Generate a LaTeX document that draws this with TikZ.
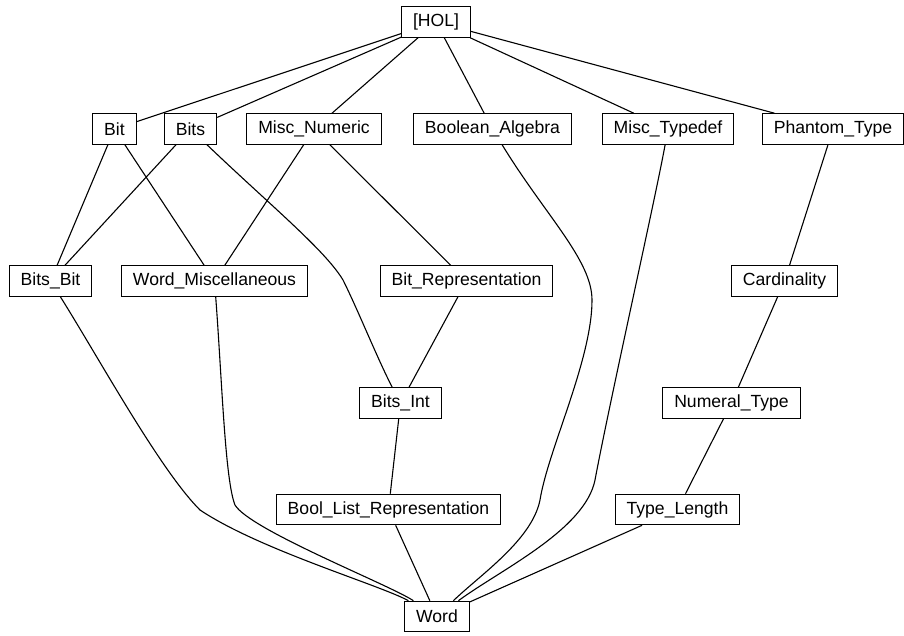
\documentclass[tikz,border=0pt]{standalone}
\usepackage{fontspec}
\setmainfont{Liberation Sans}
\begin{document}
\begin{tikzpicture}[x=1pt,y=-1pt,
  box/.style={draw,rectangle,line width=1.1pt,minimum height=30.5pt,inner xsep=11.5pt,inner ysep=0pt,
    font=\fontsize{17.6}{20}\selectfont},
  edge/.style={line width=1.1pt}]
\useasboundingbox (0,0) rectangle (904,635);
\node[box] (HOL) at (436,22) {[HOL]};
\node[box] (Bit) at (114.5,129) {Bit};
\node[box] (Bits) at (190.5,129) {Bits};
\node[box] (MN) at (314,129) {Misc\_Numeric};
\node[box] (BA) at (492.5,129) {Boolean\_Algebra};
\node[box] (MT) at (668,129) {Misc\_Typedef};
\node[box] (PT) at (833,129) {Phantom\_Type};
\node[box] (BB) at (50.5,281) {Bits\_Bit};
\node[box] (WM) at (214.5,281) {Word\_Miscellaneous};
\node[box] (BR) at (466.5,281) {Bit\_Representation};
\node[box] (Card) at (784.5,281) {Cardinality};
\node[box] (BI) at (400.5,403) {Bits\_Int};
\node[box] (NT) at (731.5,403) {Numeral\_Type};
\node[box] (BL) at (388.5,509.5) {Bool\_List\_Representation};
\node[box] (TL) at (677.5,509.5) {Type\_Length};
\node[box] (Word) at (437,616.5) {Word};
\draw[edge] (HOL) -- (Bit);
\draw[edge] (HOL) -- (Bits);
\draw[edge] (HOL) -- (MN);
\draw[edge] (HOL) -- (BA);
\draw[edge] (HOL) -- (MT);
\draw[edge] (HOL) -- (PT);
\draw[edge] (Bit) -- (BB);
\draw[edge] (Bit) -- (WM);
\draw[edge] (Bits) -- (BB);
\draw[edge] (Bits) .. controls (270,205) and (325,250) .. (343,280) .. controls (358,310) and (378,360) .. (BI);
\draw[edge] (MN) -- (WM);
\draw[edge] (MN) -- (BR);
\draw[edge] (BA) .. controls (545,215) and (592,260) .. (592,300) .. controls (592,360) and (548,450) .. (540,500) .. controls (532,540) and (480,575) .. (Word);
\draw[edge] (MT) .. controls (655,200) and (610,400) .. (595,480) .. controls (585,530) and (500,570) .. (Word);
\draw[edge] (PT) -- (Card);
\draw[edge] (Card) -- (NT);
\draw[edge] (NT) -- (TL);
\draw[edge] (TL) -- (Word);
\draw[edge] (BR) -- (BI);
\draw[edge] (BI) -- (BL);
\draw[edge] (BL) -- (Word);
\draw[edge] (BB) .. controls (100,360) and (160,470) .. (200,510) .. controls (260,550) and (380,585) .. (Word);
\draw[edge] (WM) .. controls (222,380) and (225,480) .. (235,505) .. controls (250,530) and (390,585) .. (Word);
\end{tikzpicture}
\end{document}
